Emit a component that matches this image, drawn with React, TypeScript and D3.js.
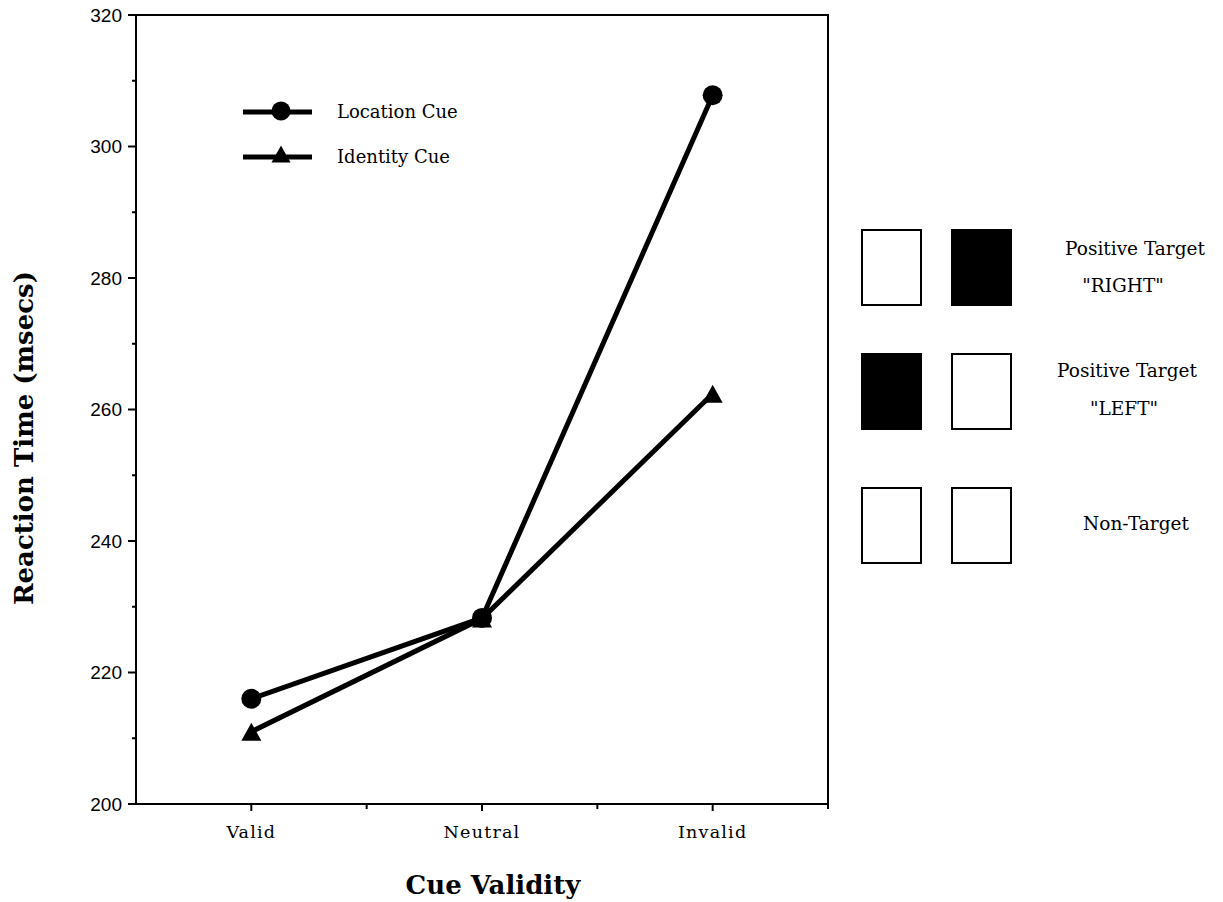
import * as d3 from "d3";

const categories = ["Valid", "Neutral", "Invalid"];
const locationCue = [216, 228.3, 307.8];
const identityCue = [211, 228.2, 262.4];
const yTicks = [200, 220, 240, 260, 280, 300, 320];
const yMinorTicks = [210, 230, 250, 270, 290, 310];

const W = 1223;
const H = 902;
const plot = { left: 136, right: 828, top: 15, bottom: 804 };

const serif = "'DejaVu Serif', 'Liberation Serif', serif";
const sans = "'Liberation Sans', Arial, sans-serif";

function Triangle({ x, y, s }: { x: number; y: number; s: number }) {
  const h = s * 0.9;
  return (
    <path
      d={`M${x},${y - h / 2} L${x + s / 2},${y + h / 2} L${x - s / 2},${y + h / 2} Z`}
      fill="#000"
    />
  );
}

export default function App() {
  const x = d3
    .scalePoint<string>()
    .domain(categories)
    .range([plot.left, plot.right])
    .padding(0.5);
  const y = d3.scaleLinear().domain([200, 320]).range([plot.bottom, plot.top]);
  const step = x.step();
  const xMinor = [plot.left + step, plot.left + 2 * step];

  const line = d3
    .line<number>()
    .x((_, i) => x(categories[i]) as number)
    .y((d) => y(d));

  // right-hand key of the stimulus displays
  const keyRows = [
    { fills: ["#fff", "#000"], labels: ["Positive Target", "\"RIGHT\""], lx: [1135, 1123] },
    { fills: ["#000", "#fff"], labels: ["Positive Target", "\"LEFT\""], lx: [1127, 1124] },
    { fills: ["#fff", "#fff"], labels: ["Non-Target"], lx: [1136] },
  ];
  const rowTop = [230, 354, 488];
  const labelBase = [[255, 292], [377, 415], [530]];

  return (
    <svg
      width={W}
      height={H}
      style={{ position: "absolute", left: 0, top: 0, background: "#fff" }}
    >
      {/* frame */}
      <rect
        x={plot.left}
        y={plot.top}
        width={plot.right - plot.left}
        height={plot.bottom - plot.top}
        fill="none"
        stroke="#000"
        strokeWidth={2}
      />

      {/* y axis */}
      {yTicks.map((t) => (
        <g key={t}>
          <line x1={plot.left - 8} x2={plot.left} y1={y(t)} y2={y(t)} stroke="#000" strokeWidth={2} />
          <text
            x={plot.left - 14}
            y={y(t)}
            dy="0.36em"
            textAnchor="end"
            fontFamily={sans}
            fontSize={19}
          >
            {t}
          </text>
        </g>
      ))}
      {yMinorTicks.map((t) => (
        <line key={t} x1={plot.left - 4} x2={plot.left} y1={y(t)} y2={y(t)} stroke="#000" strokeWidth={2} />
      ))}

      {/* x axis */}
      {categories.map((c) => (
        <g key={c}>
          <line x1={x(c)} x2={x(c)} y1={plot.bottom} y2={plot.bottom + 7} stroke="#000" strokeWidth={2} />
          <text
            x={x(c)}
            y={838}
            textAnchor="middle"
            fontFamily={serif}
            fontSize={17.5}
            letterSpacing={1.2}
          >
            {c}
          </text>
        </g>
      ))}
      {[...xMinor, plot.right].map((v, i) => (
        <line key={i} x1={v} x2={v} y1={plot.bottom} y2={plot.bottom + 5} stroke="#000" strokeWidth={2} />
      ))}

      {/* axis titles */}
      <text
        transform={`translate(33,438) rotate(-90)`}
        textAnchor="middle"
        fontFamily={serif}
        fontWeight="bold"
        fontSize={26}
      >
        Reaction Time (msecs)
      </text>
      <text
        x={493}
        y={894}
        textAnchor="middle"
        fontFamily={serif}
        fontWeight="bold"
        fontSize={26}
      >
        Cue Validity
      </text>

      {/* series */}
      <path d={line(identityCue) || ""} fill="none" stroke="#000" strokeWidth={5} />
      <path d={line(locationCue) || ""} fill="none" stroke="#000" strokeWidth={5} />
      {identityCue.map((v, i) => (
        <Triangle key={"t" + i} x={x(categories[i]) as number} y={y(v)} s={20} />
      ))}
      {locationCue.map((v, i) => (
        <circle key={"c" + i} cx={x(categories[i])} cy={y(v)} r={10} fill="#000" />
      ))}

      {/* legend */}
      <g>
        <line x1={243} x2={312} y1={112} y2={112} stroke="#000" strokeWidth={5} />
        <circle cx={281} cy={111} r={9.5} fill="#000" />
        <text x={337} y={118} fontFamily={serif} fontSize={18}>
          Location Cue
        </text>
        <line x1={243} x2={312} y1={157} y2={157} stroke="#000" strokeWidth={5} />
        <Triangle x={281} y={154} s={19} />
        <text x={337} y={163} fontFamily={serif} fontSize={18}>
          Identity Cue
        </text>
      </g>

      {/* stimulus key */}
      {keyRows.map((r, i) => (
        <g key={i}>
          {r.fills.map((f, j) => (
            <rect
              key={j}
              x={862 + j * 90}
              y={rowTop[i]}
              width={59}
              height={75}
              fill={f}
              stroke="#000"
              strokeWidth={2}
            />
          ))}
          {r.labels.map((l, k) => (
            <text
              key={k}
              x={r.lx[k]}
              y={labelBase[i][k]}
              textAnchor="middle"
              fontFamily={serif}
              fontSize={18.5}
            >
              {l}
            </text>
          ))}
        </g>
      ))}
    </svg>
  );
}
